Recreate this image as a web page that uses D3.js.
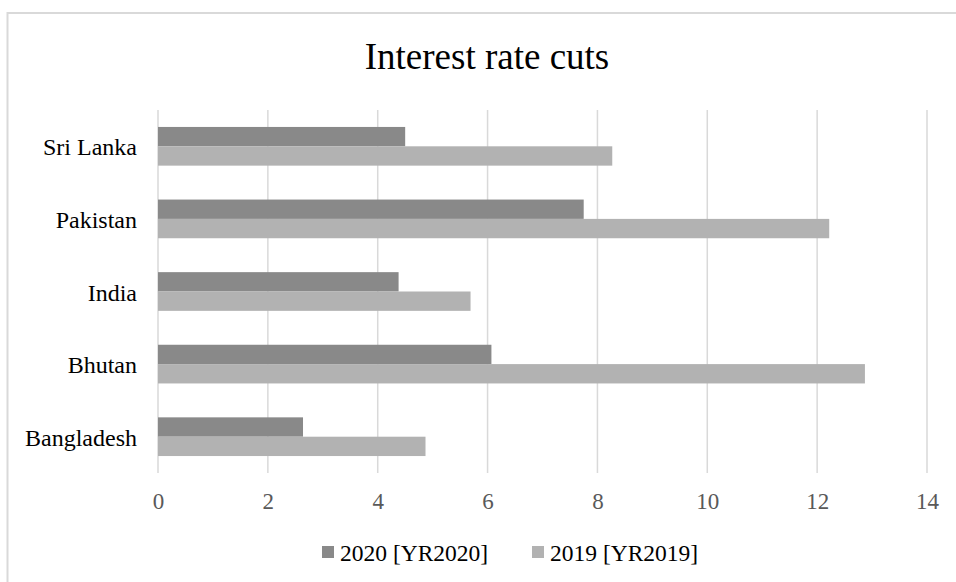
<!DOCTYPE html>
<html>
<head>
<meta charset="utf-8">
<script src="https://cdn.jsdelivr.net/npm/d3@7"></script>
<style>
  body { margin: 0; background: #fff; }
  text { font-family: "Liberation Serif", "Times New Roman", serif; }
</style>
</head>
<body>
<div id="chart"></div>
<script>
// Data
var countries = ["Sri Lanka", "Pakistan", "India", "Bhutan", "Bangladesh"];
var yr2020 = [4.5, 7.75, 4.38, 6.07, 2.64];
var yr2019 = [8.27, 12.22, 5.69, 12.87, 4.87];
var seriesNames = ["2020 [YR2020]", "2019 [YR2019]"];
var xTicks = [0, 2, 4, 6, 8, 10, 12, 14];

var colors = ["#898989", "#b2b2b2"];

//SVG size
var svgWidth = 956;
var svgHeight = 582;

//Plot area
var margin = {top: 110, right: 29, bottom: 109, left: 158};
var width = svgWidth - margin.left - margin.right;
var height = svgHeight - margin.top - margin.bottom;

var svg = d3.select("#chart")
  .append("svg")
  .attr("width", svgWidth)
  .attr("height", svgHeight);

//Chart border (runs off the right and bottom edges)
svg.append("rect")
  .attr("x", 7.5)
  .attr("y", 13)
  .attr("width", 980)
  .attr("height", 600)
  .attr("fill", "none")
  .attr("stroke", "#d9d9d9")
  .attr("stroke-width", 2);

//Title
svg.append("text")
  .attr("x", 487)
  .attr("y", 69)
  .attr("text-anchor", "middle")
  .attr("font-size", "37px")
  .attr("fill", "#000")
  .text("Interest rate cuts");

var g = svg.append("g")
  .attr("transform", `translate(${margin.left},${margin.top})`);

var x = d3.scaleLinear().domain([0, 14]).range([0, width]);

var y = d3.scaleBand()
  .domain(countries)
  .range([0, height])
  .paddingInner(0.467)
  .paddingOuter(0.2335);

var ySub = d3.scaleBand()
  .domain(seriesNames)
  .range([0, y.bandwidth()]);

//Gridlines
g.selectAll(".grid")
  .data(xTicks)
  .enter()
  .append("line")
  .attr("x1", d => x(d))
  .attr("x2", d => x(d))
  .attr("y1", 0)
  .attr("y2", height)
  .attr("stroke", "#d9d9d9")
  .attr("stroke-width", 1.5);

//Bars
var groups = g.selectAll(".country")
  .data(countries)
  .enter()
  .append("g")
  .attr("transform", d => `translate(0,${y(d)})`);

groups.selectAll("rect")
  .data((d, i) => [yr2020[i], yr2019[i]].map((v, j) => ({key: seriesNames[j], value: v, j: j})))
  .enter()
  .append("rect")
  .attr("x", x(0))
  .attr("y", d => ySub(d.key))
  .attr("width", d => x(d.value) - x(0))
  .attr("height", ySub.bandwidth())
  .attr("fill", d => colors[d.j]);

//Category labels
var yAxis = g.append("g")
  .attr("transform", "translate(-21,0)")
  .call(d3.axisLeft(y).tickSize(0).tickPadding(0));
yAxis.select(".domain").remove();
yAxis.selectAll("text")
  .attr("font-family", '"Liberation Serif", "Times New Roman", serif')
  .attr("font-size", "24px")
  .attr("fill", "#000")
  .attr("dy", "0.38em");

//Value axis labels
var xAxis = g.append("g")
  .attr("transform", `translate(0,${height})`)
  .call(d3.axisBottom(x).tickValues(xTicks).tickSize(0).tickPadding(0));
xAxis.select(".domain").remove();
xAxis.selectAll("text")
  .attr("font-family", '"Liberation Serif", "Times New Roman", serif')
  .attr("font-size", "23px")
  .attr("fill", "#595959")
  .attr("y", 36)
  .attr("dy", "0");

//Legend
var legend = svg.append("g").attr("transform", "translate(322,0)");
var offsets = [0, 210];
seriesNames.forEach(function(name, i) {
  var item = legend.append("g").attr("transform", `translate(${offsets[i]},0)`);
  item.append("rect")
    .attr("x", 0)
    .attr("y", 546)
    .attr("width", 12)
    .attr("height", 12)
    .attr("fill", colors[i]);
  item.append("text")
    .attr("x", 18)
    .attr("y", 560.5)
    .attr("font-size", "23.5px")
    .attr("fill", "#000")
    .text(name);
});
</script>
</body>
</html>
